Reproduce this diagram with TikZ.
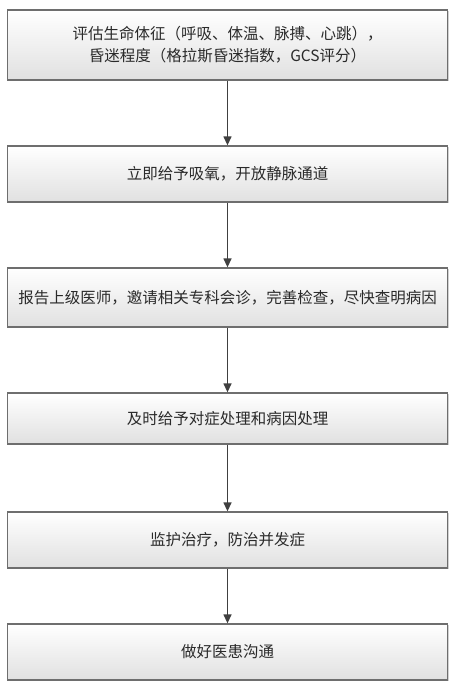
\documentclass[tikz,border=0pt]{standalone}
\usepackage{fontspec}
\setmainfont{Noto Sans CJK SC}
\usetikzlibrary{shadows,arrows.meta}
\definecolor{edgegray}{HTML}{6E6E6E}
\definecolor{txtgray}{HTML}{2A2A2A}
\definecolor{arrowgray}{HTML}{404040}
\tikzset{
  stepbox/.style={draw=edgegray, line width=1.3pt, top color=white, bottom color=black!12,
    minimum width=440pt, inner sep=2pt, align=center, text=txtgray,
    font=\fontsize{15.5pt}{22pt}\selectfont,
    drop shadow={shadow xshift=1.2pt, shadow yshift=-1.2pt, opacity=0.35, fill=black!50}},
  flow/.style={draw=arrowgray, line width=1.3pt, -{Triangle[length=9pt,width=8pt]}}
}
\begin{document}
\begin{tikzpicture}[x=1pt,y=-1pt]
\useasboundingbox (0,0) rectangle (464,696);
\fill[white] (0,0) rectangle (464,696);
\node[stepbox, minimum height=70pt] (b1) at (227.5,45) {评估生命体征（呼吸、体温、脉搏、心跳），\\昏迷程度（格拉斯昏迷指数，GCS评分）};
\node[stepbox, minimum height=56pt] (b2) at (227.5,174) {立即给予吸氧，开放静脉通道};
\node[stepbox, minimum height=59pt] (b3) at (227.5,297.5) {报告上级医师，邀请相关专科会诊，完善检查，尽快查明病因};
\node[stepbox, minimum height=51pt] (b4) at (227.5,418.5) {及时给予对症处理和病因处理};
\node[stepbox, minimum height=56pt] (b5) at (227.5,540) {监护治疗，防治并发症};
\node[stepbox, minimum height=56pt] (b6) at (227.5,652) {做好医患沟通};
\draw[flow] (b1) -- (b2);
\draw[flow] (b2) -- (b3);
\draw[flow] (b3) -- (b4);
\draw[flow] (b4) -- (b5);
\draw[flow] (b5) -- (b6);
\end{tikzpicture}
\end{document}
